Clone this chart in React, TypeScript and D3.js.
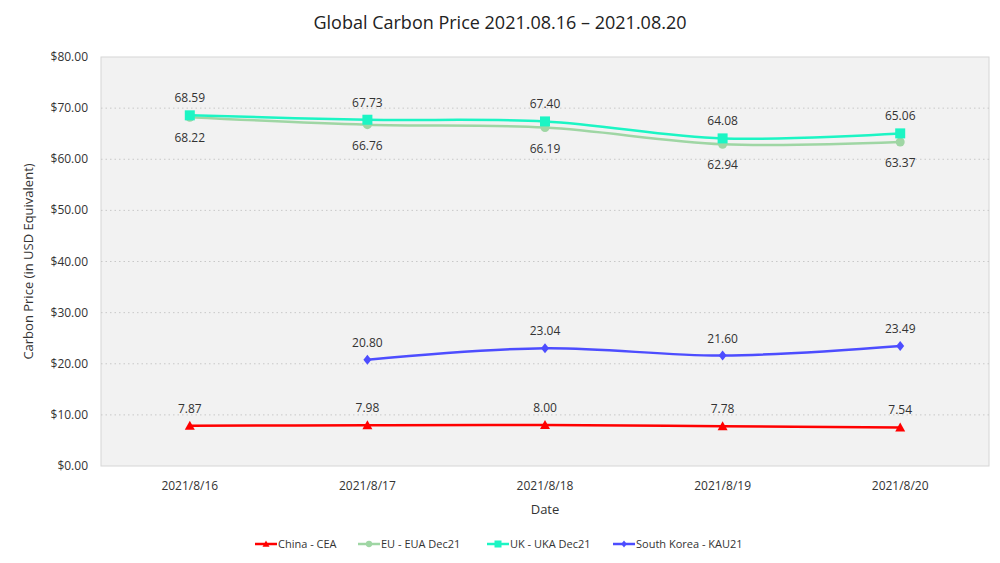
import React from "react";
import * as d3 from "d3";

const dates = ["2021/8/16", "2021/8/17", "2021/8/18", "2021/8/19", "2021/8/20"];
const china = [7.87, 7.98, 8.0, 7.78, 7.54];
const eu = [68.22, 66.76, 66.19, 62.94, 63.37];
const uk = [68.59, 67.73, 67.4, 64.08, 65.06];
const korea: (number | null)[] = [null, 20.8, 23.04, 21.6, 23.49];
const yTicks = [0, 10, 20, 30, 40, 50, 60, 70, 80];

const W = 1000, H = 563;
const L = 101, R = 989, T = 57, B = 466;
const font = "'Open Sans', 'Noto Sans', sans-serif";

type S = { name: string; color: string; values: (number | null)[]; marker: string; labelPos: "above" | "below" };
const series: S[] = [
  { name: "China - CEA", color: "#ff0000", values: china, marker: "triangle", labelPos: "above" },
  { name: "EU - EUA Dec21", color: "#9fd6a4", values: eu, marker: "circle", labelPos: "below" },
  { name: "UK - UKA Dec21", color: "#1cf5c4", values: uk, marker: "square", labelPos: "above" },
  { name: "South Korea - KAU21", color: "#4d4dff", values: korea, marker: "diamond", labelPos: "above" },
];

function Marker({ type, x, y, color, size = 1 }: { type: string; x: number; y: number; color: string; size?: number }) {
  const s = 5 * size;
  if (type === "triangle") return <path d={`M${x},${y - s} L${x + s},${y + s * 0.8} L${x - s},${y + s * 0.8} Z`} fill={color} />;
  if (type === "circle") return <circle cx={x} cy={y} r={s * 0.9} fill={color} />;
  if (type === "square") return <rect x={x - s} y={y - s} width={2 * s} height={2 * s} fill={color} />;
  return <path d={`M${x},${y - s} L${x + s * 0.8},${y} L${x},${y + s} L${x - s * 0.8},${y} Z`} fill={color} />;
}

export default function App() {
  const x = d3.scaleBand<string>().domain(dates).range([L, R]);
  const cx = (d: string) => (x(d) as number) + x.bandwidth() / 2;
  const y = d3.scaleLinear().domain([0, 80]).range([B, T]);
  const line = d3
    .line<[string, number | null]>()
    .defined((d) => d[1] != null)
    .x((d) => cx(d[0]))
    .y((d) => y(d[1] as number))
    .curve(d3.curveCatmullRom.alpha(0.5));

  const legendX = [255, 358, 487, 613];

  return (
    <svg width={W} height={H} style={{ position: "absolute", left: 0, top: 0, background: "#fff" }} fontFamily={font}>
      <text x={500} y={29} textAnchor="middle" fontSize={18} fill="#222">
        Global Carbon Price 2021.08.16 – 2021.08.20
      </text>
      <rect x={L} y={T} width={R - L} height={B - T} fill="#f2f2f2" stroke="#d6d6d6" />
      {yTicks.map((t) => (
        <g key={t}>
          {t > 0 && t < 80 && (
            <line x1={L} x2={R} y1={y(t)} y2={y(t)} stroke="#c8c8c8" strokeDasharray="1.5,3" />
          )}
          <text x={88} y={y(t) + 4} textAnchor="end" fontSize={12} fill="#333">
            {"$" + t.toFixed(2)}
          </text>
        </g>
      ))}
      {dates.map((d) => (
        <text key={d} x={cx(d)} y={490} textAnchor="middle" fontSize={12} fill="#333">
          {d}
        </text>
      ))}
      <text x={545} y={514} textAnchor="middle" fontSize={13} fill="#333">Date</text>
      <text transform={`translate(33,${(T + B) / 2}) rotate(-90)`} textAnchor="middle" fontSize={13} fill="#333">
        Carbon Price (in USD Equivalent)
      </text>
      {series.map((s) => {
        const pts = dates.map((d, i) => [d, s.values[i]] as [string, number | null]);
        return (
          <g key={s.name}>
            <path d={line(pts) || ""} fill="none" stroke={s.color} strokeWidth={2.5} />
            {pts.map(([d, v]) =>
              v == null ? null : (
                <g key={d}>
                  <Marker type={s.marker} x={cx(d)} y={y(v)} color={s.color} />
                  <text
                    x={cx(d)}
                    y={s.labelPos === "above" ? y(v) - 13 : y(v) + 25}
                    textAnchor="middle"
                    fontSize={12}
                    fill="#333"
                  >
                    {v.toFixed(2)}
                  </text>
                </g>
              )
            )}
          </g>
        );
      })}
      {series.map((s, i) => (
        <g key={s.name}>
          <line x1={legendX[i]} x2={legendX[i] + 22} y1={544} y2={544} stroke={s.color} strokeWidth={2.5} />
          <Marker type={s.marker} x={legendX[i] + 11} y={544} color={s.color} size={0.7} />
          <text x={legendX[i] + 23} y={548} fontSize={11} fill="#333">{s.name}</text>
        </g>
      ))}
    </svg>
  );
}
